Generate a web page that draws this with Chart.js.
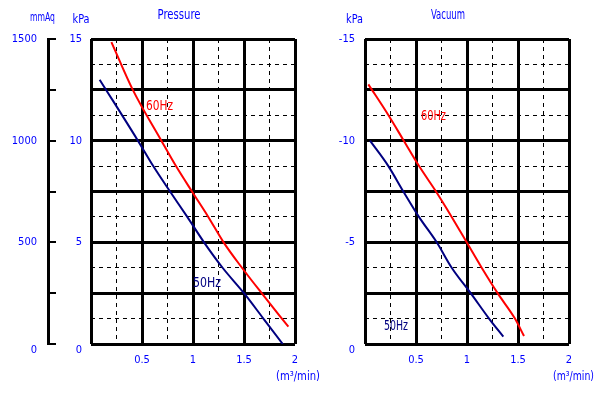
<!DOCTYPE html>
<html><head><meta charset="utf-8">
<script src="https://cdn.jsdelivr.net/npm/chart.js@4/dist/chart.umd.min.js"></script>
<style>
html,body{margin:0;padding:0;background:#fff;}
#wrap{position:relative;width:609px;height:393px;overflow:hidden;background:#fff;}
canvas{position:absolute;top:0;}
</style></head><body>
<div id="wrap">
<canvas id="c1" width="330" height="393" style="left:0px"></canvas>
<canvas id="c2" width="279" height="393" style="left:330px"></canvas>
</div>
<script>
// ---- data ----
const flowTickLabels = [0.5, 1, 1.5, 2];            // m3/min
const pressureKPaLabels = [0, 5, 10, 15];
const pressureMmAqLabels = [0, 500, 1000, 1500];
const vacuumKPaLabels = [0, -5, -10, -15];

const pressure60Flow = [0.2, 0.41, 0.69, 0.833, 0.99, 1.15, 1.30, 1.48, 1.673, 1.935];
const pressure60KPa  = [14.85, 12.5, 10.0, 8.75, 7.5, 6.25, 5.0, 3.75, 2.5, 0.85];
const pressure50Flow = [0.085, 0.46, 0.61, 0.775, 0.944, 1.108, 1.29, 1.50, 1.69, 1.88];
const pressure50KPa  = [13.0, 10.0, 8.75, 7.5, 6.25, 5.0, 3.75, 2.5, 1.25, 0];

const vacuum60Flow = [0.033, 0.23, 0.38, 0.53, 0.696, 0.85, 0.997, 1.144, 1.30, 1.47, 1.559];
const vacuum60KPa  = [-12.77, -11.25, -10, -8.75, -7.5, -6.25, -5, -3.75, -2.5, -1.25, -0.39];
const vacuum50Flow = [0.049, 0.229, 0.376, 0.529, 0.703, 0.85, 1.036, 1.216, 1.356];
const vacuum50KPa  = [-10.0, -8.75, -7.5, -6.25, -5, -3.75, -2.5, -1.25, -0.36];

// ---- styling ----
const FONT = "'Liberation Sans Narrow','DejaVu Sans Condensed','Arial Narrow','Liberation Sans',sans-serif";
const BLUE_TXT = '#0000ff';
const RED = '#ff0000';
const NAVY = '#000080';
Chart.defaults.font.family = FONT;

const near = (a, b) => Math.abs(a - b) < 1e-9;
const isMult = (v, m) => near(v / m, Math.round(v / m));
const pts = (xs, ys) => xs.map((x, i) => ({x: x, y: ys[i]}));
const lbl = (list) => (v) => list.some(t => near(t, v)) ? (near(v, 0) ? ['', '0'] : String(v)) : '';

function xScale() {
  return {
    type: 'linear', min: 0, max: 2,
    ticks: { stepSize: 0.25, autoSkip: false, maxRotation: 0, padding: 10,
      color: BLUE_TXT, font: {size: 11, family: FONT},
      callback: (v) => flowTickLabels.some(t => near(t, v)) ? String(v) : '' },
    grid: { color: '#000', drawTicks: false,
      lineWidth: (c) => (c.tick && isMult(c.tick.value, 0.5)) ? 3 : 1 },
    border: { display: false,
      dash: (c) => (c.tick && !isMult(c.tick.value, 0.5)) ? [4, 4] : [] },
    afterFit: (s) => { s.height = 49; }
  };
}
function yGrid() {
  return {
    grid: { color: '#000', drawTicks: false,
      lineWidth: (c) => (c.tick && isMult(c.tick.value, 2.5)) ? 3 : 1 },
    border: { display: false,
      dash: (c) => (c.tick && !isMult(c.tick.value, 2.5)) ? [4, 4] : [] }
  };
}

// draws titles / unit labels / curve labels as real canvas text,
// optionally squeezed horizontally to mimic the narrow original font
const textPlugin = {
  id: 'texts',
  afterDraw(chart, args, opts) {
    const ctx = chart.ctx;
    (opts.items || []).forEach(it => {
      let x = it.x, y = it.y;
      if (it.data) {
        x = chart.scales.x.getPixelForValue(it.data[0]);
        y = chart.scales.y.getPixelForValue(it.data[1]);
      }
      ctx.save();
      ctx.textBaseline = 'middle';
      ctx.font = (it.size || 11) + 'px ' + FONT;
      ctx.fillStyle = it.color || BLUE_TXT;
      const mw = ctx.measureText(it.text).width;
      const sx = it.w ? it.w / mw : 1;
      const w = mw * sx;
      let left = x;
      if ((it.align || 'center') === 'center') left = x - w / 2;
      ctx.textAlign = 'left';
      ctx.translate(left, y);
      ctx.scale(sx, 1);
      ctx.fillText(it.text, 0, 0);
      ctx.restore();
    });
  }
};

// ---- Pressure chart ----
const ys = yGrid();
new Chart(document.getElementById('c1'), {
  type: 'line',
  data: { datasets: [
    { label: '60Hz', data: pts(pressure60Flow, pressure60KPa), borderColor: RED, borderWidth: 2,
      pointRadius: 0, cubicInterpolationMode: 'monotone', fill: false },
    { label: '50Hz', data: pts(pressure50Flow, pressure50KPa), borderColor: NAVY, borderWidth: 2,
      pointRadius: 0, cubicInterpolationMode: 'monotone', fill: false }
  ]},
  options: {
    responsive: false, animation: false, devicePixelRatio: 1,
    layout: { padding: { left: 0, top: 39, right: 35, bottom: 0 } },
    plugins: { legend: { display: false }, tooltip: { enabled: false },
      texts: { items: [
        { text: 'mmAq', x: 42.5, y: 18, size: 13, w: 25 },
        { text: 'kPa', x: 81, y: 19.5, size: 13, w: 17 },
        { text: 'Pressure', x: 179, y: 15.5, size: 14, w: 43 },
        { text: '(m³/min)', x: 276, y: 377, size: 13, w: 44, align: 'left' },
        { text: '60Hz', data: [0.539, 11.7], size: 14, w: 27, color: RED, align: 'left' },
        { text: '50Hz', data: [1.0, 3.0], size: 14, w: 28, color: NAVY, align: 'left' }
      ]}
    },
    scales: {
      x: xScale(),
      y: Object.assign({
        type: 'linear', position: 'left', weight: 0, min: 0, max: 15,
        ticks: { stepSize: 1.25, autoSkip: false, padding: 9, color: BLUE_TXT,
          font: {size: 11, family: FONT}, callback: lbl(pressureKPaLabels) },
        afterFit: (s) => { s.width = 43; }
      }, ys),
      y2: {
        type: 'linear', position: 'left', weight: 1, min: 0, max: 1500,
        ticks: { stepSize: 250, autoSkip: false, padding: 19, color: BLUE_TXT,
          font: {size: 11, family: FONT}, callback: lbl(pressureMmAqLabels) },
        grid: { drawOnChartArea: false, drawTicks: true, tickLength: -8, color: '#000', lineWidth: 2 },
        border: { display: true, color: '#000', width: 3 },
        afterFit: (s) => { s.width = 48; }
      }
    }
  },
  plugins: [textPlugin]
});

// ---- Vacuum chart ----
const ys2 = yGrid();
new Chart(document.getElementById('c2'), {
  type: 'line',
  data: { datasets: [
    { label: '60Hz', data: pts(vacuum60Flow, vacuum60KPa), borderColor: RED, borderWidth: 2,
      pointRadius: 0, cubicInterpolationMode: 'monotone', fill: false },
    { label: '50Hz', data: pts(vacuum50Flow, vacuum50KPa), borderColor: NAVY, borderWidth: 2,
      pointRadius: 0, cubicInterpolationMode: 'monotone', fill: false }
  ]},
  options: {
    responsive: false, animation: false, devicePixelRatio: 1,
    layout: { padding: { left: 0, top: 39, right: 40, bottom: 0 } },
    plugins: { legend: { display: false }, tooltip: { enabled: false },
      texts: { items: [
        { text: 'kPa', x: 24.5, y: 19.5, size: 13, w: 17 },
        { text: 'Vacuum', x: 118, y: 15.5, size: 14, w: 34 },
        { text: '(m³/min)', x: 223, y: 377, size: 13, w: 41, align: 'left' },
        { text: '60Hz', data: [0.549, -11.18], size: 14, w: 25, color: RED, align: 'left' },
        { text: '50Hz', data: [0.186, -0.85], size: 14, w: 24, color: NAVY, align: 'left' }
      ]}
    },
    scales: {
      x: xScale(),
      y: Object.assign({
        type: 'linear', position: 'left', min: -15, max: 0, reverse: true,
        ticks: { stepSize: 1.25, autoSkip: false, padding: 10, color: BLUE_TXT,
          font: {size: 11, family: FONT}, callback: lbl(vacuumKPaLabels) },
        afterFit: (s) => { s.width = 35; }
      }, ys2)
    }
  },
  plugins: [textPlugin]
});
</script>
</body></html>
